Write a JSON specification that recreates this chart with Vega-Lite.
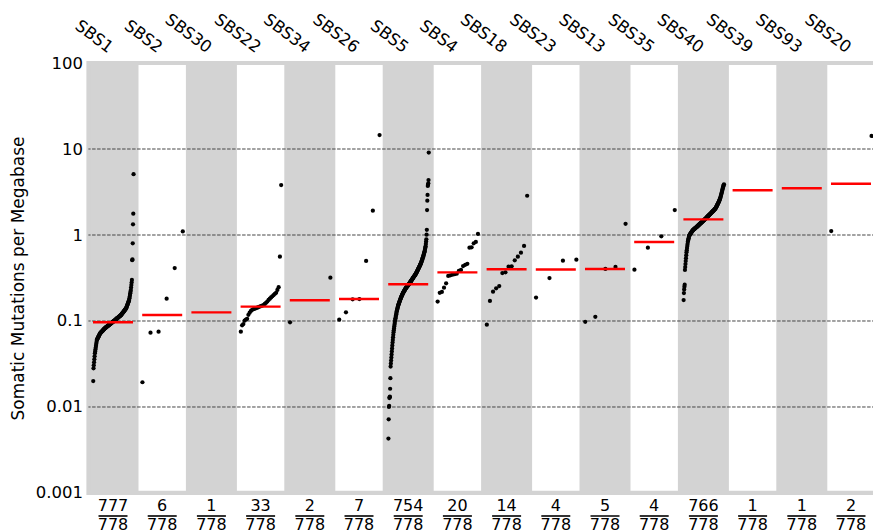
{
"$schema": "https://vega.github.io/schema/vega-lite/v6.json",
"autosize": "none",
"width": 787.2,
"height": 430,
"padding": {"left": 88.4, "top": 63, "right": 0, "bottom": 39},
"background": "white",
"config": {
  "font": "DejaVu Sans",
  "view": {"fill": "#d3d3d3", "stroke": "#d3d3d3", "strokeWidth": 4}
},
"datasets": {
"sigs": [
{"s":"SBS1","n":777,"total":778,"med":0.0966},
{"s":"SBS2","n":6,"total":778,"med":0.1175},
{"s":"SBS30","n":1,"total":778,"med":0.126},
{"s":"SBS22","n":33,"total":778,"med":0.147},
{"s":"SBS34","n":2,"total":778,"med":0.174},
{"s":"SBS26","n":7,"total":778,"med":0.180},
{"s":"SBS5","n":754,"total":778,"med":0.267},
{"s":"SBS4","n":20,"total":778,"med":0.368},
{"s":"SBS18","n":14,"total":778,"med":0.399},
{"s":"SBS23","n":4,"total":778,"med":0.397},
{"s":"SBS13","n":5,"total":778,"med":0.403},
{"s":"SBS35","n":4,"total":778,"med":0.830},
{"s":"SBS40","n":766,"total":778,"med":1.52},
{"s":"SBS39","n":1,"total":778,"med":3.31},
{"s":"SBS93","n":1,"total":778,"med":3.49},
{"s":"SBS20","n":2,"total":778,"med":3.95}
],
"grid": [{"g":10},{"g":1},{"g":0.1},{"g":0.01}],
"pts": [
{"s":"SBS1","v":0.020},
{"s":"SBS1","v":0.0282},{"s":"SBS1","v":0.0305},{"s":"SBS1","v":0.0331},{"s":"SBS1","v":0.0358},{"s":"SBS1","v":0.0388},{"s":"SBS1","v":0.0421},{"s":"SBS1","v":0.0443},{"s":"SBS1","v":0.0466},{"s":"SBS1","v":0.0490},{"s":"SBS1","v":0.0516},{"s":"SBS1","v":0.0543},{"s":"SBS1","v":0.0571},{"s":"SBS1","v":0.0601},
{"s":"SBS1","v":0.0610},{"s":"SBS1","v":0.0619},{"s":"SBS1","v":0.0629},{"s":"SBS1","v":0.0638},{"s":"SBS1","v":0.0648},{"s":"SBS1","v":0.0658},{"s":"SBS1","v":0.0668},{"s":"SBS1","v":0.0678},{"s":"SBS1","v":0.0688},{"s":"SBS1","v":0.0698},{"s":"SBS1","v":0.0709},{"s":"SBS1","v":0.0719},
{"s":"SBS1","v":0.0725},{"s":"SBS1","v":0.0730},{"s":"SBS1","v":0.0736},{"s":"SBS1","v":0.0742},{"s":"SBS1","v":0.0748},{"s":"SBS1","v":0.0754},{"s":"SBS1","v":0.0760},{"s":"SBS1","v":0.0766},{"s":"SBS1","v":0.0772},{"s":"SBS1","v":0.0778},{"s":"SBS1","v":0.0784},{"s":"SBS1","v":0.0790},{"s":"SBS1","v":0.0797},{"s":"SBS1","v":0.0803},{"s":"SBS1","v":0.0809},{"s":"SBS1","v":0.0816},{"s":"SBS1","v":0.0822},
{"s":"SBS1","v":0.0827},{"s":"SBS1","v":0.0832},{"s":"SBS1","v":0.0837},{"s":"SBS1","v":0.0842},{"s":"SBS1","v":0.0847},{"s":"SBS1","v":0.0852},{"s":"SBS1","v":0.0857},{"s":"SBS1","v":0.0862},{"s":"SBS1","v":0.0867},{"s":"SBS1","v":0.0872},{"s":"SBS1","v":0.0877},{"s":"SBS1","v":0.0883},{"s":"SBS1","v":0.0888},{"s":"SBS1","v":0.0893},{"s":"SBS1","v":0.0899},{"s":"SBS1","v":0.0904},{"s":"SBS1","v":0.0909},{"s":"SBS1","v":0.0915},{"s":"SBS1","v":0.0920},{"s":"SBS1","v":0.0926},{"s":"SBS1","v":0.0931},{"s":"SBS1","v":0.0937},{"s":"SBS1","v":0.0942},{"s":"SBS1","v":0.0948},{"s":"SBS1","v":0.0954},{"s":"SBS1","v":0.0959},{"s":"SBS1","v":0.0965},{"s":"SBS1","v":0.0971},{"s":"SBS1","v":0.0976},{"s":"SBS1","v":0.0982},
{"s":"SBS1","v":0.0988},{"s":"SBS1","v":0.0994},{"s":"SBS1","v":0.1000},{"s":"SBS1","v":0.1006},{"s":"SBS1","v":0.1013},{"s":"SBS1","v":0.1019},{"s":"SBS1","v":0.1025},{"s":"SBS1","v":0.1032},{"s":"SBS1","v":0.1038},{"s":"SBS1","v":0.1045},{"s":"SBS1","v":0.1051},{"s":"SBS1","v":0.1058},{"s":"SBS1","v":0.1064},{"s":"SBS1","v":0.1071},{"s":"SBS1","v":0.1078},{"s":"SBS1","v":0.1084},{"s":"SBS1","v":0.1091},{"s":"SBS1","v":0.1098},{"s":"SBS1","v":0.1105},{"s":"SBS1","v":0.1112},{"s":"SBS1","v":0.1119},{"s":"SBS1","v":0.1126},{"s":"SBS1","v":0.1133},{"s":"SBS1","v":0.1140},{"s":"SBS1","v":0.1147},{"s":"SBS1","v":0.1154},{"s":"SBS1","v":0.1161},{"s":"SBS1","v":0.1168},{"s":"SBS1","v":0.1175},
{"s":"SBS1","v":0.1187},{"s":"SBS1","v":0.1199},{"s":"SBS1","v":0.1211},{"s":"SBS1","v":0.1223},{"s":"SBS1","v":0.1235},{"s":"SBS1","v":0.1247},{"s":"SBS1","v":0.1260},{"s":"SBS1","v":0.1272},{"s":"SBS1","v":0.1285},{"s":"SBS1","v":0.1298},{"s":"SBS1","v":0.1311},{"s":"SBS1","v":0.1324},{"s":"SBS1","v":0.1337},{"s":"SBS1","v":0.1351},{"s":"SBS1","v":0.1364},{"s":"SBS1","v":0.1378},{"s":"SBS1","v":0.1392},{"s":"SBS1","v":0.1406},
{"s":"SBS1","v":0.1435},{"s":"SBS1","v":0.1464},{"s":"SBS1","v":0.1493},{"s":"SBS1","v":0.1524},{"s":"SBS1","v":0.1555},{"s":"SBS1","v":0.1586},{"s":"SBS1","v":0.1618},{"s":"SBS1","v":0.1651},{"s":"SBS1","v":0.1685},{"s":"SBS1","v":0.1719},{"s":"SBS1","v":0.1754},
{"s":"SBS1","v":0.1834},{"s":"SBS1","v":0.1917},{"s":"SBS1","v":0.2005},{"s":"SBS1","v":0.2096},{"s":"SBS1","v":0.2191},{"s":"SBS1","v":0.2291},
{"s":"SBS1","v":0.245},{"s":"SBS1","v":0.262},{"s":"SBS1","v":0.280},{"s":"SBS1","v":0.300},
{"s":"SBS1","v":0.51},{"s":"SBS1","v":0.52},{"s":"SBS1","v":0.80},{"s":"SBS1","v":1.33},{"s":"SBS1","v":1.77},{"s":"SBS1","v":5.1},
{"s":"SBS2","v":0.0194},{"s":"SBS2","v":0.0731},{"s":"SBS2","v":0.0752},{"s":"SBS2","v":0.182},{"s":"SBS2","v":0.413},{"s":"SBS2","v":1.10},
{"s":"SBS30","v":0.126},
{"s":"SBS22","v":0.0752},{"s":"SBS22","v":0.089},{"s":"SBS22","v":0.092},{"s":"SBS22","v":0.101},{"s":"SBS22","v":0.104},{"s":"SBS22","v":0.106},{"s":"SBS22","v":0.118},{"s":"SBS22","v":0.125},{"s":"SBS22","v":0.131},{"s":"SBS22","v":0.135},{"s":"SBS22","v":0.137},{"s":"SBS22","v":0.139},{"s":"SBS22","v":0.141},{"s":"SBS22","v":0.143},{"s":"SBS22","v":0.145},{"s":"SBS22","v":0.147},{"s":"SBS22","v":0.149},{"s":"SBS22","v":0.151},{"s":"SBS22","v":0.153},{"s":"SBS22","v":0.158},{"s":"SBS22","v":0.163},{"s":"SBS22","v":0.168},{"s":"SBS22","v":0.176},{"s":"SBS22","v":0.182},{"s":"SBS22","v":0.188},{"s":"SBS22","v":0.194},{"s":"SBS22","v":0.200},{"s":"SBS22","v":0.207},{"s":"SBS22","v":0.213},{"s":"SBS22","v":0.230},{"s":"SBS22","v":0.247},{"s":"SBS22","v":0.56},{"s":"SBS22","v":3.81},
{"s":"SBS34","v":0.0964},{"s":"SBS34","v":0.319},
{"s":"SBS26","v":0.1035},{"s":"SBS26","v":0.126},{"s":"SBS26","v":0.179},{"s":"SBS26","v":0.180},{"s":"SBS26","v":0.499},{"s":"SBS26","v":1.92},{"s":"SBS26","v":14.5},
{"s":"SBS5","v":0.0043},{"s":"SBS5","v":0.0072},{"s":"SBS5","v":0.0100},{"s":"SBS5","v":0.0103},{"s":"SBS5","v":0.0127},{"s":"SBS5","v":0.0130},{"s":"SBS5","v":0.0132},{"s":"SBS5","v":0.0163},{"s":"SBS5","v":0.0216},
{"s":"SBS5","v":0.0295},{"s":"SBS5","v":0.0320},{"s":"SBS5","v":0.0347},{"s":"SBS5","v":0.0376},{"s":"SBS5","v":0.0407},{"s":"SBS5","v":0.0442},{"s":"SBS5","v":0.0479},{"s":"SBS5","v":0.0519},{"s":"SBS5","v":0.0562},
{"s":"SBS5","v":0.0603},{"s":"SBS5","v":0.0646},{"s":"SBS5","v":0.0692},{"s":"SBS5","v":0.0741},
{"s":"SBS5","v":0.0779},{"s":"SBS5","v":0.0819},{"s":"SBS5","v":0.0861},{"s":"SBS5","v":0.0905},{"s":"SBS5","v":0.0951},{"s":"SBS5","v":0.1000},
{"s":"SBS5","v":0.1037},{"s":"SBS5","v":0.1075},{"s":"SBS5","v":0.1115},{"s":"SBS5","v":0.1156},{"s":"SBS5","v":0.1199},{"s":"SBS5","v":0.1243},{"s":"SBS5","v":0.1288},
{"s":"SBS5","v":0.1323},{"s":"SBS5","v":0.1359},{"s":"SBS5","v":0.1396},{"s":"SBS5","v":0.1434},{"s":"SBS5","v":0.1473},{"s":"SBS5","v":0.1514},
{"s":"SBS5","v":0.1542},{"s":"SBS5","v":0.1571},{"s":"SBS5","v":0.1600},{"s":"SBS5","v":0.1630},{"s":"SBS5","v":0.1660},{"s":"SBS5","v":0.1691},{"s":"SBS5","v":0.1722},{"s":"SBS5","v":0.1754},{"s":"SBS5","v":0.1787},{"s":"SBS5","v":0.1820},
{"s":"SBS5","v":0.1848},{"s":"SBS5","v":0.1877},{"s":"SBS5","v":0.1906},{"s":"SBS5","v":0.1935},{"s":"SBS5","v":0.1965},{"s":"SBS5","v":0.1996},{"s":"SBS5","v":0.2027},{"s":"SBS5","v":0.2058},{"s":"SBS5","v":0.2089},
{"s":"SBS5","v":0.2113},{"s":"SBS5","v":0.2138},{"s":"SBS5","v":0.2163},{"s":"SBS5","v":0.2188},{"s":"SBS5","v":0.2213},{"s":"SBS5","v":0.2239},{"s":"SBS5","v":0.2265},{"s":"SBS5","v":0.2291},{"s":"SBS5","v":0.2317},{"s":"SBS5","v":0.2344},{"s":"SBS5","v":0.2371},{"s":"SBS5","v":0.2399},
{"s":"SBS5","v":0.2419},{"s":"SBS5","v":0.2439},{"s":"SBS5","v":0.2460},{"s":"SBS5","v":0.2480},{"s":"SBS5","v":0.2501},{"s":"SBS5","v":0.2522},{"s":"SBS5","v":0.2543},{"s":"SBS5","v":0.2564},{"s":"SBS5","v":0.2586},{"s":"SBS5","v":0.2607},{"s":"SBS5","v":0.2629},{"s":"SBS5","v":0.2651},{"s":"SBS5","v":0.2673},
{"s":"SBS5","v":0.2699},{"s":"SBS5","v":0.2725},{"s":"SBS5","v":0.2752},{"s":"SBS5","v":0.2779},{"s":"SBS5","v":0.2806},{"s":"SBS5","v":0.2833},{"s":"SBS5","v":0.2861},{"s":"SBS5","v":0.2888},{"s":"SBS5","v":0.2917},{"s":"SBS5","v":0.2945},{"s":"SBS5","v":0.2974},{"s":"SBS5","v":0.3003},{"s":"SBS5","v":0.3032},{"s":"SBS5","v":0.3061},{"s":"SBS5","v":0.3090},
{"s":"SBS5","v":0.3121},{"s":"SBS5","v":0.3152},{"s":"SBS5","v":0.3184},{"s":"SBS5","v":0.3216},{"s":"SBS5","v":0.3248},{"s":"SBS5","v":0.3281},{"s":"SBS5","v":0.3313},{"s":"SBS5","v":0.3347},{"s":"SBS5","v":0.3380},{"s":"SBS5","v":0.3414},{"s":"SBS5","v":0.3448},{"s":"SBS5","v":0.3483},{"s":"SBS5","v":0.3518},{"s":"SBS5","v":0.3553},{"s":"SBS5","v":0.3589},
{"s":"SBS5","v":0.3637},{"s":"SBS5","v":0.3686},{"s":"SBS5","v":0.3735},{"s":"SBS5","v":0.3785},{"s":"SBS5","v":0.3835},{"s":"SBS5","v":0.3887},{"s":"SBS5","v":0.3939},{"s":"SBS5","v":0.3991},{"s":"SBS5","v":0.4045},{"s":"SBS5","v":0.4099},{"s":"SBS5","v":0.4154},{"s":"SBS5","v":0.4209},{"s":"SBS5","v":0.4266},
{"s":"SBS5","v":0.4328},{"s":"SBS5","v":0.4390},{"s":"SBS5","v":0.4454},{"s":"SBS5","v":0.4518},{"s":"SBS5","v":0.4584},{"s":"SBS5","v":0.4650},{"s":"SBS5","v":0.4718},{"s":"SBS5","v":0.4786},
{"s":"SBS5","v":0.4883},{"s":"SBS5","v":0.4982},{"s":"SBS5","v":0.5083},{"s":"SBS5","v":0.5186},{"s":"SBS5","v":0.5292},{"s":"SBS5","v":0.5399},{"s":"SBS5","v":0.5509},{"s":"SBS5","v":0.5623},
{"s":"SBS5","v":0.5754},{"s":"SBS5","v":0.5888},{"s":"SBS5","v":0.6026},{"s":"SBS5","v":0.6166},{"s":"SBS5","v":0.6310},{"s":"SBS5","v":0.6457},
{"s":"SBS5","v":0.6683},{"s":"SBS5","v":0.6918},{"s":"SBS5","v":0.7161},{"s":"SBS5","v":0.7413},
{"s":"SBS5","v":0.788},{"s":"SBS5","v":0.838},{"s":"SBS5","v":0.891},{"s":"SBS5","v":1.01},{"s":"SBS5","v":1.148},
{"s":"SBS5","v":1.95},{"s":"SBS5","v":2.51},{"s":"SBS5","v":2.92},{"s":"SBS5","v":3.72},{"s":"SBS5","v":3.85},{"s":"SBS5","v":3.99},{"s":"SBS5","v":4.36},{"s":"SBS5","v":9.1},
{"s":"SBS4","v":0.168},{"s":"SBS4","v":0.213},{"s":"SBS4","v":0.218},{"s":"SBS4","v":0.244},{"s":"SBS4","v":0.274},{"s":"SBS4","v":0.334},{"s":"SBS4","v":0.340},{"s":"SBS4","v":0.346},{"s":"SBS4","v":0.350},{"s":"SBS4","v":0.355},{"s":"SBS4","v":0.382},{"s":"SBS4","v":0.392},{"s":"SBS4","v":0.436},{"s":"SBS4","v":0.450},{"s":"SBS4","v":0.463},{"s":"SBS4","v":0.711},{"s":"SBS4","v":0.720},{"s":"SBS4","v":0.800},{"s":"SBS4","v":0.830},{"s":"SBS4","v":1.03},
{"s":"SBS18","v":0.0906},{"s":"SBS18","v":0.171},{"s":"SBS18","v":0.219},{"s":"SBS18","v":0.240},{"s":"SBS18","v":0.255},{"s":"SBS18","v":0.361},{"s":"SBS18","v":0.368},{"s":"SBS18","v":0.428},{"s":"SBS18","v":0.432},{"s":"SBS18","v":0.508},{"s":"SBS18","v":0.560},{"s":"SBS18","v":0.622},{"s":"SBS18","v":0.745},{"s":"SBS18","v":2.86},
{"s":"SBS23","v":0.187},{"s":"SBS23","v":0.316},{"s":"SBS23","v":0.503},{"s":"SBS23","v":0.516},
{"s":"SBS13","v":0.098},{"s":"SBS13","v":0.112},{"s":"SBS13","v":0.403},{"s":"SBS13","v":0.425},{"s":"SBS13","v":1.35},
{"s":"SBS35","v":0.395},{"s":"SBS35","v":0.713},{"s":"SBS35","v":0.966},{"s":"SBS35","v":1.95},
{"s":"SBS40","v":0.175},{"s":"SBS40","v":0.211},{"s":"SBS40","v":0.233},{"s":"SBS40","v":0.251},{"s":"SBS40","v":0.264},
{"s":"SBS40","v":0.392},{"s":"SBS40","v":0.424},{"s":"SBS40","v":0.459},{"s":"SBS40","v":0.497},{"s":"SBS40","v":0.538},{"s":"SBS40","v":0.583},{"s":"SBS40","v":0.631},
{"s":"SBS40","v":0.667},{"s":"SBS40","v":0.705},{"s":"SBS40","v":0.745},{"s":"SBS40","v":0.787},{"s":"SBS40","v":0.832},
{"s":"SBS40","v":0.859},{"s":"SBS40","v":0.887},{"s":"SBS40","v":0.916},{"s":"SBS40","v":0.946},{"s":"SBS40","v":0.977},
{"s":"SBS40","v":0.988},{"s":"SBS40","v":1.000},{"s":"SBS40","v":1.011},{"s":"SBS40","v":1.023},{"s":"SBS40","v":1.035},{"s":"SBS40","v":1.047},
{"s":"SBS40","v":1.058},{"s":"SBS40","v":1.068},{"s":"SBS40","v":1.079},{"s":"SBS40","v":1.090},{"s":"SBS40","v":1.101},{"s":"SBS40","v":1.112},{"s":"SBS40","v":1.124},{"s":"SBS40","v":1.135},
{"s":"SBS40","v":1.142},{"s":"SBS40","v":1.149},{"s":"SBS40","v":1.156},{"s":"SBS40","v":1.163},{"s":"SBS40","v":1.170},{"s":"SBS40","v":1.177},{"s":"SBS40","v":1.184},{"s":"SBS40","v":1.191},{"s":"SBS40","v":1.198},{"s":"SBS40","v":1.206},{"s":"SBS40","v":1.213},{"s":"SBS40","v":1.220},{"s":"SBS40","v":1.228},{"s":"SBS40","v":1.235},{"s":"SBS40","v":1.243},{"s":"SBS40","v":1.250},
{"s":"SBS40","v":1.258},{"s":"SBS40","v":1.266},{"s":"SBS40","v":1.275},{"s":"SBS40","v":1.283},{"s":"SBS40","v":1.292},{"s":"SBS40","v":1.300},{"s":"SBS40","v":1.309},{"s":"SBS40","v":1.317},{"s":"SBS40","v":1.326},{"s":"SBS40","v":1.334},{"s":"SBS40","v":1.343},{"s":"SBS40","v":1.352},{"s":"SBS40","v":1.361},{"s":"SBS40","v":1.370},{"s":"SBS40","v":1.379},{"s":"SBS40","v":1.388},{"s":"SBS40","v":1.397},{"s":"SBS40","v":1.406},{"s":"SBS40","v":1.415},{"s":"SBS40","v":1.424},{"s":"SBS40","v":1.434},{"s":"SBS40","v":1.443},{"s":"SBS40","v":1.453},{"s":"SBS40","v":1.462},{"s":"SBS40","v":1.472},{"s":"SBS40","v":1.482},{"s":"SBS40","v":1.491},{"s":"SBS40","v":1.501},{"s":"SBS40","v":1.511},{"s":"SBS40","v":1.521},{"s":"SBS40","v":1.531},
{"s":"SBS40","v":1.542},{"s":"SBS40","v":1.553},{"s":"SBS40","v":1.564},{"s":"SBS40","v":1.575},{"s":"SBS40","v":1.586},{"s":"SBS40","v":1.597},{"s":"SBS40","v":1.609},{"s":"SBS40","v":1.620},{"s":"SBS40","v":1.632},{"s":"SBS40","v":1.643},{"s":"SBS40","v":1.655},{"s":"SBS40","v":1.667},{"s":"SBS40","v":1.678},{"s":"SBS40","v":1.690},{"s":"SBS40","v":1.702},{"s":"SBS40","v":1.714},{"s":"SBS40","v":1.726},{"s":"SBS40","v":1.739},{"s":"SBS40","v":1.751},{"s":"SBS40","v":1.763},{"s":"SBS40","v":1.776},{"s":"SBS40","v":1.788},{"s":"SBS40","v":1.801},{"s":"SBS40","v":1.814},{"s":"SBS40","v":1.827},{"s":"SBS40","v":1.840},{"s":"SBS40","v":1.853},{"s":"SBS40","v":1.866},{"s":"SBS40","v":1.879},{"s":"SBS40","v":1.892},{"s":"SBS40","v":1.906},{"s":"SBS40","v":1.919},
{"s":"SBS40","v":1.934},{"s":"SBS40","v":1.949},{"s":"SBS40","v":1.964},{"s":"SBS40","v":1.980},{"s":"SBS40","v":1.995},{"s":"SBS40","v":2.011},{"s":"SBS40","v":2.026},{"s":"SBS40","v":2.042},
{"s":"SBS40","v":2.071},{"s":"SBS40","v":2.101},{"s":"SBS40","v":2.131},{"s":"SBS40","v":2.161},{"s":"SBS40","v":2.192},{"s":"SBS40","v":2.223},{"s":"SBS40","v":2.255},{"s":"SBS40","v":2.287},{"s":"SBS40","v":2.319},{"s":"SBS40","v":2.352},{"s":"SBS40","v":2.386},{"s":"SBS40","v":2.420},{"s":"SBS40","v":2.455},
{"s":"SBS40","v":2.500},{"s":"SBS40","v":2.547},{"s":"SBS40","v":2.594},{"s":"SBS40","v":2.642},{"s":"SBS40","v":2.692},
{"s":"SBS40","v":2.765},{"s":"SBS40","v":2.840},{"s":"SBS40","v":2.917},{"s":"SBS40","v":2.997},{"s":"SBS40","v":3.078},{"s":"SBS40","v":3.162},
{"s":"SBS40","v":3.255},{"s":"SBS40","v":3.350},{"s":"SBS40","v":3.447},{"s":"SBS40","v":3.548},
{"s":"SBS40","v":3.631},{"s":"SBS40","v":3.715},{"s":"SBS40","v":3.802},{"s":"SBS40","v":3.890},
{"s":"SBS39","v":3.31},
{"s":"SBS93","v":3.49},
{"s":"SBS20","v":1.11},{"s":"SBS20","v":14.2}
]
},
"encoding": {
  "x": {"field": "s", "type": "nominal",
    "scale": {"type": "band", "domain": ["SBS1","SBS2","SBS30","SBS22","SBS34","SBS26","SBS5","SBS4","SBS18","SBS23","SBS13","SBS35","SBS40","SBS39","SBS93","SBS20"], "paddingInner": 0, "paddingOuter": 0},
    "axis": {"orient": "top", "title": null, "labelAngle": 37, "labelAlign": "right", "labelBaseline": "alphabetic", "labelFontSize": 16.5, "labelColor": "black", "labelPadding": 10, "labelOffset": -5, "ticks": false, "tickSize": 0, "domain": false, "grid": false, "labelFont": "DejaVu Sans"}}
},
"layer": [
{
  "data": {"name": "sigs"},
  "transform": [
    {"window": [{"op": "row_number", "as": "idx"}]},
    {"filter": "datum.idx % 2 == 0"}
  ],
  "mark": {"type": "bar", "fill": "white", "opacity": 1, "width": 47.4},
  "encoding": {
    "y": {"datum": 94.8, "type": "quantitative", "scale": {"type": "log", "domain": [0.001, 100]},
      "axis": {"values": [0.001, 0.01, 0.1, 1, 10, 100], "format": "~g", "grid": false, "ticks": false, "domain": false, "labelFontSize": 16.5, "labelColor": "black", "labelPadding": 6, "labelFont": "DejaVu Sans", "title": "Somatic Mutations per Megabase", "titleFont": "DejaVu Sans", "titleFontSize": 17, "titleFontWeight": "normal", "titleColor": "black", "titlePadding": 8}},
    "y2": {"datum": 0.00106}
  }
},
{
  "data": {"name": "grid"},
  "mark": {"type": "rule", "color": "#444444", "strokeWidth": 1, "strokeDash": [3.5, 1.5]},
  "encoding": {
    "x": null,
    "y": {"field": "g", "type": "quantitative", "scale": {"type": "log", "domain": [0.001, 100]},
      "axis": {"values": [0.001, 0.01, 0.1, 1, 10, 100], "format": "~g", "grid": false, "ticks": false, "domain": false, "labelFontSize": 16.5, "labelColor": "black", "labelPadding": 6, "labelFont": "DejaVu Sans", "title": "Somatic Mutations per Megabase", "titleFont": "DejaVu Sans", "titleFontSize": 17, "titleFontWeight": "normal", "titleColor": "black", "titlePadding": 8}}
  }
},
{
  "data": {"name": "pts"},
  "transform": [
    {"window": [{"op": "percent_rank", "as": "pr"}], "groupby": ["s"], "sort": [{"field": "v", "order": "ascending"}]}
  ],
  "mark": {"type": "circle", "color": "black", "opacity": 1, "size": 18},
  "encoding": {
    "xOffset": {"field": "pr", "type": "quantitative", "scale": {"domain": [-0.12, 1.10]}},
    "y": {"field": "v", "type": "quantitative", "scale": {"type": "log", "domain": [0.001, 100]},
      "axis": {"values": [0.001, 0.01, 0.1, 1, 10, 100], "format": "~g", "grid": false, "ticks": false, "domain": false, "labelFontSize": 16.5, "labelColor": "black", "labelPadding": 6, "labelFont": "DejaVu Sans", "title": "Somatic Mutations per Megabase", "titleFont": "DejaVu Sans", "titleFontSize": 17, "titleFontWeight": "normal", "titleColor": "black", "titlePadding": 8}}
  }
},
{
  "data": {"name": "sigs"},
  "mark": {"type": "tick", "color": "#ff0000", "opacity": 1, "thickness": 2.4, "size": 40, "orient": "horizontal"},
  "encoding": {
    "y": {"field": "med", "type": "quantitative", "scale": {"type": "log", "domain": [0.001, 100]},
      "axis": {"values": [0.001, 0.01, 0.1, 1, 10, 100], "format": "~g", "grid": false, "ticks": false, "domain": false, "labelFontSize": 16.5, "labelColor": "black", "labelPadding": 6, "labelFont": "DejaVu Sans", "title": "Somatic Mutations per Megabase", "titleFont": "DejaVu Sans", "titleFontSize": 17, "titleFontWeight": "normal", "titleColor": "black", "titlePadding": 8}}
  }
},
{
  "data": {"name": "sigs"},
  "mark": {"type": "text", "baseline": "middle", "align": "center", "dy": 13.5, "fontSize": 16, "font": "DejaVu Sans", "color": "black"},
  "encoding": {
    "y": {"datum": 0.001, "type": "quantitative", "scale": {"type": "log", "domain": [0.001, 100]},
      "axis": {"values": [0.001, 0.01, 0.1, 1, 10, 100], "format": "~g", "grid": false, "ticks": false, "domain": false, "labelFontSize": 16.5, "labelColor": "black", "labelPadding": 6, "labelFont": "DejaVu Sans", "title": "Somatic Mutations per Megabase", "titleFont": "DejaVu Sans", "titleFontSize": 17, "titleFontWeight": "normal", "titleColor": "black", "titlePadding": 8}},
    "text": {"field": "n", "type": "quantitative"}
  }
},
{
  "data": {"name": "sigs"},
  "mark": {"type": "tick", "orient": "horizontal", "size": 29, "thickness": 1.6, "color": "black", "opacity": 1, "yOffset": 23},
  "encoding": {
    "y": {"datum": 0.001, "type": "quantitative", "scale": {"type": "log", "domain": [0.001, 100]},
      "axis": {"values": [0.001, 0.01, 0.1, 1, 10, 100], "format": "~g", "grid": false, "ticks": false, "domain": false, "labelFontSize": 16.5, "labelColor": "black", "labelPadding": 6, "labelFont": "DejaVu Sans", "title": "Somatic Mutations per Megabase", "titleFont": "DejaVu Sans", "titleFontSize": 17, "titleFontWeight": "normal", "titleColor": "black", "titlePadding": 8}}
  }
},
{
  "data": {"name": "sigs"},
  "mark": {"type": "text", "baseline": "middle", "align": "center", "dy": 32, "fontSize": 16, "font": "DejaVu Sans", "color": "black"},
  "encoding": {
    "y": {"datum": 0.001, "type": "quantitative", "scale": {"type": "log", "domain": [0.001, 100]},
      "axis": {"values": [0.001, 0.01, 0.1, 1, 10, 100], "format": "~g", "grid": false, "ticks": false, "domain": false, "labelFontSize": 16.5, "labelColor": "black", "labelPadding": 6, "labelFont": "DejaVu Sans", "title": "Somatic Mutations per Megabase", "titleFont": "DejaVu Sans", "titleFontSize": 17, "titleFontWeight": "normal", "titleColor": "black", "titlePadding": 8}},
    "text": {"field": "total", "type": "quantitative"}
  }
}
]
}
